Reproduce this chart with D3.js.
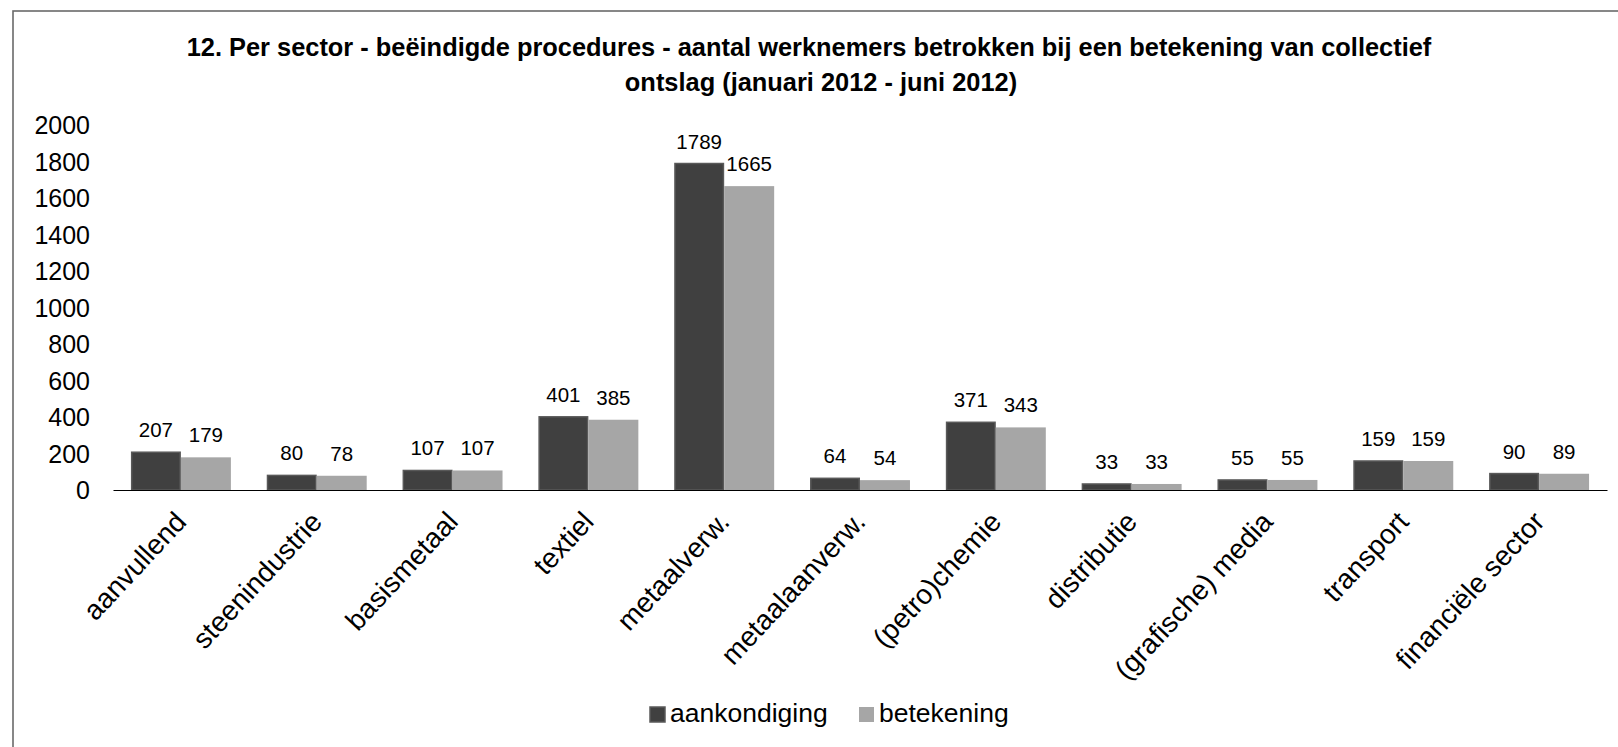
<!DOCTYPE html>
<html>
<head>
<meta charset="utf-8">
<script src="https://cdn.jsdelivr.net/npm/d3@7"></script>
<style>
  html, body { margin: 0; padding: 0; background: #fff; }
  svg { display: block; font-family: "Liberation Sans", Arial, sans-serif; }
</style>
</head>
<body>
<svg id="chart" width="1618" height="747"></svg>
<script>
const titleLines = [
  "12. Per sector - beëindigde procedures - aantal werknemers betrokken bij een betekening van collectief",
  "ontslag (januari 2012 - juni 2012)"
];
const categories = ["aanvullend", "steenindustrie", "basismetaal", "textiel", "metaalverw.", "metaalaanverw.", "(petro)chemie", "distributie", "(grafische) media", "transport", "financiële sector"];
const seriesNames = ["aankondiging", "betekening"];
const aankondiging = [207, 80, 107, 401, 1789, 64, 371, 33, 55, 159, 90];
const betekening = [179, 78, 107, 385, 1665, 54, 343, 33, 55, 159, 89];
const yTicks = [0, 200, 400, 600, 800, 1000, 1200, 1400, 1600, 1800, 2000];
const colors = ["#404040", "#a6a6a6"];
const strokes = ["#595959", "none"];

const svg = d3.select("#chart");

// border
svg.append("rect").attr("x", 13).attr("y", 11).attr("width", 1700).attr("height", 900)
  .attr("fill", "none").attr("stroke", "#6a6a6a").attr("stroke-width", 1.6);

// title
const titleX = [809, 821];
const title = svg.append("text").attr("text-anchor", "middle")
  .attr("font-weight", "bold").attr("font-size", 25.4).attr("fill", "#000");
titleLines.forEach((t, i) => {
  title.append("tspan").attr("x", titleX[i]).attr("y", 56 + i * 35).text(t);
});

const x0 = d3.scaleBand().domain(categories).range([113, 1607]).paddingInner(0.264).paddingOuter(0.132);
const x1 = d3.scaleBand().domain(seriesNames).range([0, x0.bandwidth()]);
const y = d3.scaleLinear().domain([0, 2000]).range([490, 125]);

// y axis labels
const yAxis = d3.axisLeft(y).tickValues(yTicks).tickFormat(d3.format("d")).tickSize(0).tickPadding(0);
const yg = svg.append("g").attr("transform", "translate(90,0)").call(yAxis);
yg.select(".domain").remove();
yg.selectAll("text").attr("font-size", 25).attr("font-family", "Liberation Sans, Arial, sans-serif")
  .attr("fill", "#000").attr("dy", "0.35em");

const data = categories.map((c, i) => ({cat: c, vals: [aankondiging[i], betekening[i]]}));

const groups = svg.append("g").selectAll("g").data(data).join("g")
  .attr("transform", d => `translate(${x0(d.cat)},0)`);

groups.selectAll("rect").data(d => d.vals.map((v, k) => ({v, k, s: seriesNames[k]}))).join("rect")
  .attr("x", d => x1(d.s) + (d.k === 0 ? 0.75 : 0))
  .attr("width", d => x1.bandwidth() - (d.k === 0 ? 1.5 : 0))
  .attr("y", d => y(d.v))
  .attr("height", d => y(0) - y(d.v))
  .attr("fill", d => colors[d.k])
  .attr("stroke", d => strokes[d.k])
  .attr("stroke-width", 1.5);

groups.selectAll("text.lbl").data(d => d.vals.map((v, k) => ({v, k, s: seriesNames[k]}))).join("text")
  .attr("class", "lbl")
  .attr("x", d => x1(d.s) + x1.bandwidth() / 2)
  .attr("y", d => y(d.v) - 15)
  .attr("text-anchor", "middle")
  .attr("font-size", 20.5)
  .attr("fill", "#000")
  .text(d => d.v);

// x axis
const xAxis = d3.axisBottom(x0).tickSize(0).tickPadding(0);
const xg = svg.append("g").attr("transform", `translate(0,${y(0)})`).call(xAxis);
xg.select(".domain").attr("stroke", "#000").attr("stroke-width", 1.2);
xg.selectAll(".tick text")
  .attr("font-size", 28).attr("font-family", "Liberation Sans, Arial, sans-serif")
  .attr("fill", "#000")
  .attr("text-anchor", "end")
  .attr("y", 0).attr("dy", 0)
  .attr("transform", "translate(7,33) rotate(-47)");

// legend
const legX = [650, 859];
const leg = svg.append("g");
seriesNames.forEach((s, i) => {
  leg.append("rect").attr("x", legX[i]).attr("y", 707).attr("width", 15).attr("height", 15)
    .attr("fill", colors[i]).attr("stroke", strokes[i]).attr("stroke-width", 1.5);
  leg.append("text").attr("x", legX[i] + 20).attr("y", 722).attr("font-size", 26.5)
    .attr("fill", "#000").text(s);
});
</script>
</body>
</html>
